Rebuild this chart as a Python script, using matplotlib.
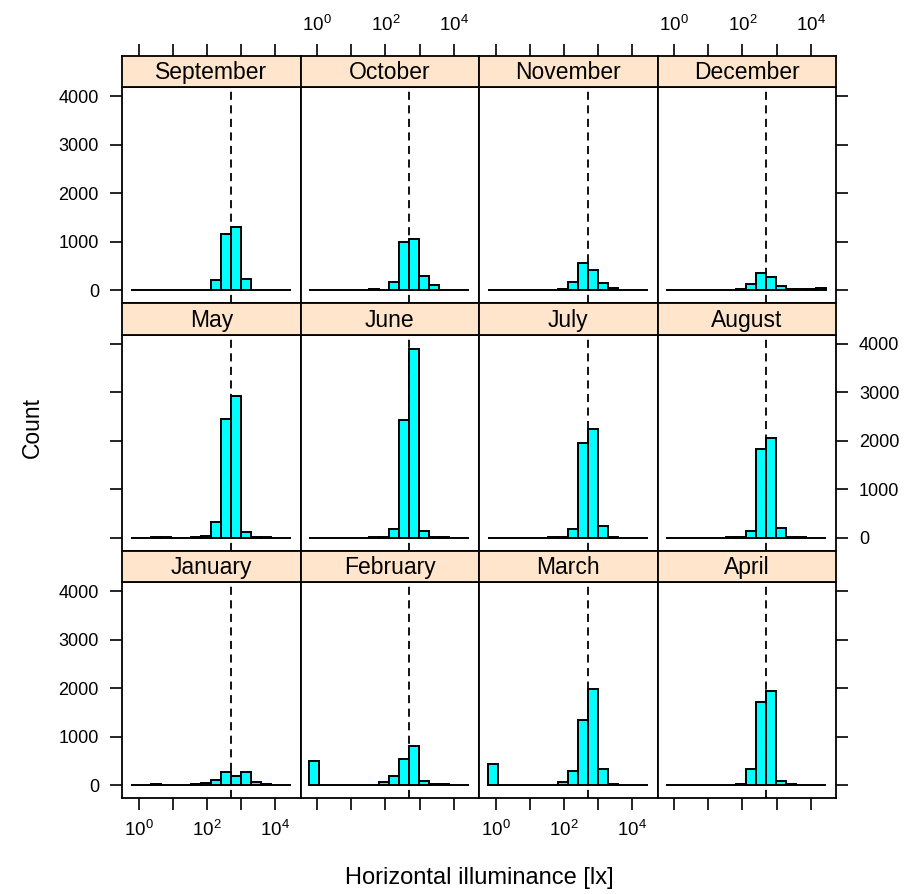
import numpy as np
import matplotlib
matplotlib.use("Agg")
import matplotlib.pyplot as plt

plt.rcParams["font.family"] = ["Liberation Sans", "DejaVu Sans"]
plt.rcParams["mathtext.fontset"] = "custom"
plt.rcParams["mathtext.rm"] = "Liberation Sans"
plt.rcParams["mathtext.it"] = "Liberation Sans"
plt.rcParams["mathtext.bf"] = "Liberation Sans"

# Illuminance range covered by the histogram bins [lx], 16 equal bins in log10
ILLUM_MIN = 0.58
ILLUM_MAX = 28800.0
N_BINS = 16
REFERENCE_LX = 500.0

# Panel order: top row, middle row, bottom row (left to right)
months = [
    "September", "October", "November", "December",
    "May", "June", "July", "August",
    "January", "February", "March", "April",
]

# Counts per log10 bin for each month
september = [0, 0, 0, 0, 0, 0, 2, 5, 213, 1164, 1302, 227, 4, 0, 0, 0]
october   = [0, 0, 0, 0, 0, 0, 20, 8, 165, 999, 1061, 289, 110, 8, 2, 0]
november  = [0, 0, 0, 0, 0, 0, 0, 20, 172, 551, 406, 145, 41, 10, 0, 0]
december  = [0, 8, 10, 8, 0, 0, 5, 20, 124, 358, 269, 83, 20, 15, 15, 40]
may       = [0, 0, 8, 8, 0, 0, 5, 28, 317, 2445, 2934, 117, 14, 3, 0, 0]
june      = [0, 0, 0, 0, 0, 0, 14, 5, 179, 2438, 3905, 138, 20, 3, 0, 0]
july      = [0, 0, 0, 0, 0, 0, 3, 14, 179, 1963, 2245, 241, 14, 0, 0, 0]
august    = [0, 0, 0, 0, 0, 0, 3, 14, 138, 1839, 2052, 207, 14, 5, 0, 0]
january   = [0, 0, 14, 0, 0, 0, 14, 48, 96, 262, 193, 275, 62, 20, 0, 0]
february  = [489, 0, 0, 0, 0, 0, 0, 69, 193, 537, 799, 76, 20, 20, 0, 0]
march     = [441, 5, 5, 10, 5, 5, 10, 62, 289, 1350, 1983, 324, 20, 3, 0, 0]
april     = [0, 10, 10, 0, 5, 5, 10, 20, 324, 1708, 1949, 90, 15, 3, 0, 0]

counts = [september, october, november, december,
          may, june, july, august,
          january, february, march, april]

y_ticks = [0, 1000, 2000, 3000, 4000]
x_tick_exponents = [0, 1, 2, 3, 4]
x_tick_labels = ["$10^{0}$", "", "$10^{2}$", "", "$10^{4}$"]

# ---------------------------------------------------------------------------
W, H = 909, 894
fig = plt.figure(figsize=(W / 100, H / 100), dpi=100)

col_x = [122.0, 300.5, 479.0, 657.5]
col_w = 178.5
row_top = [55.7, 303.2, 550.7]
strip_h = 31.3
panel_h = 216.2

edges = np.linspace(np.log10(ILLUM_MIN), np.log10(ILLUM_MAX), N_BINS + 1)
bin_w = edges[1] - edges[0]
xlim = (-0.49, 4.745)
ylim = (-270, 4195)

strip_color = "#FFE5CC"
bar_color = "#00FFFF"
tick_len = 12 * 72 / 100
frame_lw = 1.3


def rect(x, y, w, h):
    return [x / W, 1 - (y + h) / H, w / W, h / H]


for idx, (name, vals) in enumerate(zip(months, counts)):
    r, c = divmod(idx, 4)
    top = row_top[r]
    ax = fig.add_axes(rect(col_x[c], top + strip_h, col_w, panel_h))
    sx = fig.add_axes(rect(col_x[c], top, col_w, strip_h))

    ax.bar(edges[:-1], vals, width=bin_w, align="edge", color=bar_color,
           edgecolor="black", linewidth=1.4, zorder=2)
    ax.axvline(np.log10(REFERENCE_LX), color="black", linewidth=1.3,
               linestyle=(0, (4.5, 3.0)), zorder=3)
    ax.set_xlim(*xlim)
    ax.set_ylim(*ylim)
    for sp in ax.spines.values():
        sp.set_linewidth(frame_lw)

    # strip
    sx.set_facecolor(strip_color)
    sx.set_xlim(*xlim)
    sx.set_ylim(0, 1)
    sx.set_yticks([])
    for sp in sx.spines.values():
        sp.set_linewidth(frame_lw)
    sx.text(0.5, 0.45, name, transform=sx.transAxes, ha="center",
            va="center", fontsize=16.5)

    # y axis ticks on outer columns
    ax.set_yticks(y_ticks)
    left_on = c == 0
    right_on = c == 3
    ax.tick_params(axis="y", direction="out", length=tick_len, width=1.2,
                   labelsize=13, pad=8,
                   left=left_on, right=right_on,
                   labelleft=left_on and r != 1,
                   labelright=right_on and r == 1)

    # x axis ticks: bottom row on panel, top row on strip
    ax.set_xticks(x_tick_exponents)
    ax.set_xticklabels(x_tick_labels)
    bottom_row = r == 2
    ax.tick_params(axis="x", direction="out", length=tick_len, width=1.2,
                   labelsize=13.5, pad=7, top=False, bottom=bottom_row,
                   labelbottom=bottom_row and c in (0, 2), labeltop=False)

    sx.set_xticks(x_tick_exponents)
    sx.set_xticklabels(x_tick_labels)
    top_row = r == 0
    sx.tick_params(axis="x", direction="out", length=tick_len, width=1.2,
                   labelsize=13.5, pad=6, bottom=False, labelbottom=False,
                   top=top_row, labeltop=top_row and c in (1, 3))

fig.text(32 / W, 1 - 427 / H, "Count", rotation=90, ha="center",
         va="center", fontsize=16.5)
fig.text(479 / W, 1 - 878 / H, "Horizontal illuminance [lx]", ha="center",
         va="center", fontsize=17)

fig.savefig("out.png", dpi=100)
